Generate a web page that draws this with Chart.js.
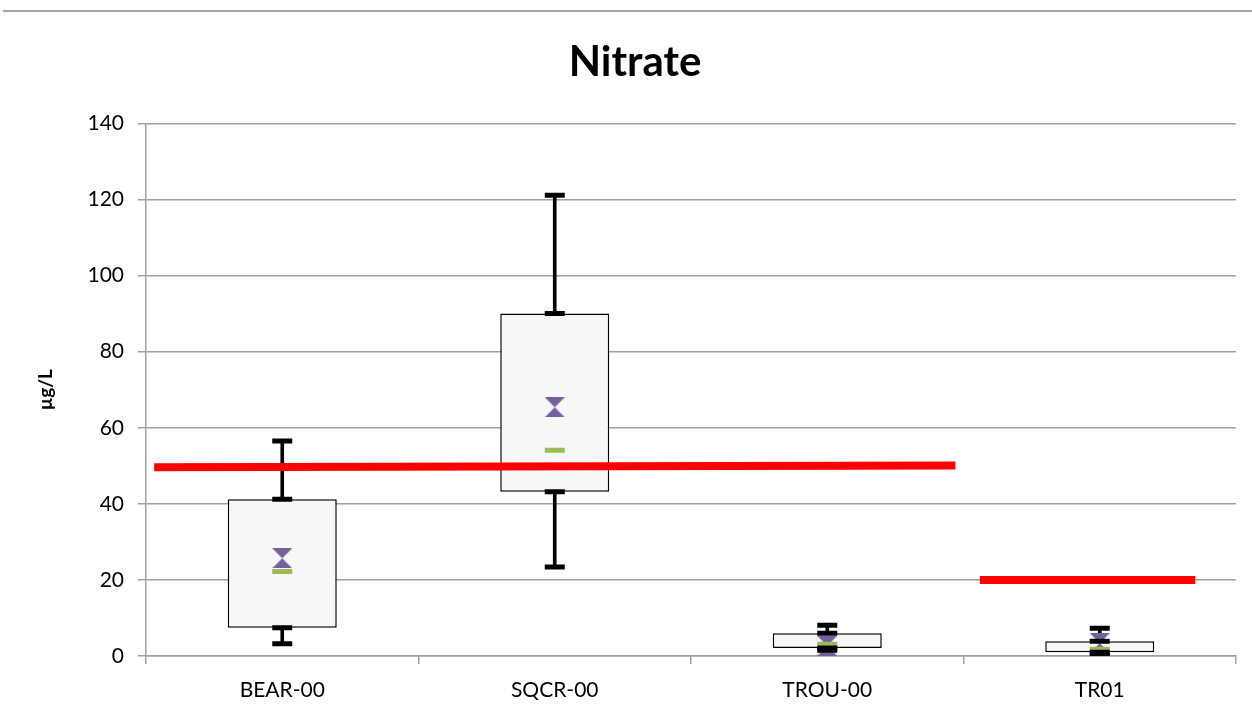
<!DOCTYPE html>
<html lang="en">
<head>
    <meta charset="UTF-8">
    <title>Nitrate</title>
    <script src="https://cdn.jsdelivr.net/npm/chart.js"></script>
    <style>
        body {
            margin: 0;
            background: #ffffff;
            font-family: Lato, Arial, sans-serif;
        }
        .frame {
            position: absolute;
            left: 3px;
            top: 10px;
            width: 1249px;
            border-top: 2px solid #a6a6a6;
        }
        #boxChart {
            position: absolute;
            left: 0;
            top: 0;
        }
    </style>
</head>
<body>
    <div class="frame"></div>
    <canvas id="boxChart" width="1252" height="717"></canvas>
    <script>
        // sites and box statistics (ug/L)
        const sites = ['BEAR-00', 'SQCR-00', 'TROU-00', 'TR01'];
        const minVals = [3.2, 23.4, 1.5, 0.6];
        const q1Vals = [7.4, 43.2, 2.1, 1.0];
        const medianVals = [22.2, 54.1, 3.1, 1.8];
        const meanVals = [25.7, 65.4, 2.7, 3.4];
        const q3Vals = [41.2, 90.0, 6.0, 3.9];
        const maxVals = [56.5, 121.1, 8.1, 7.3];

        // guideline segments, x in category units (0..4)
        const limitA = [{x: 0.03, y: 49.6}, {x: 2.97, y: 50.1}];
        const limitB = [{x: 3.06, y: 20.0}, {x: 3.85, y: 20.0}];

        const yTicks = [0, 20, 40, 60, 80, 100, 120, 140];

        // hourglass marker for the mean
        function hourglass(color) {
            const c = document.createElement('canvas');
            c.width = 20; c.height = 20;
            const g = c.getContext('2d');
            g.fillStyle = color;
            g.beginPath();
            g.moveTo(0, 0); g.lineTo(20, 0); g.lineTo(10, 10); g.closePath();
            g.moveTo(0, 20); g.lineTo(20, 20); g.lineTo(10, 10); g.closePath();
            g.fill();
            return c;
        }

        function capSet(vals) {
            return {
                type: 'line',
                data: vals,
                showLine: false,
                pointStyle: 'line',
                pointRadius: 10,
                pointBorderWidth: 5,
                pointBorderColor: '#000000',
                order: 4
            };
        }

        const ctx = document.getElementById('boxChart').getContext('2d');
        const chart = new Chart(ctx, {
            data: {
                labels: sites,
                datasets: [
                    {
                        type: 'bar',
                        data: sites.map((s, i) => [minVals[i], maxVals[i]]),
                        backgroundColor: '#000000',
                        barThickness: 3,
                        grouped: false,
                        order: 10
                    },
                    {
                        type: 'bar',
                        data: sites.map((s, i) => [q1Vals[i], q3Vals[i]]),
                        backgroundColor: '#f7f7f7',
                        borderColor: '#000000',
                        borderWidth: 1.5,
                        borderSkipped: false,
                        categoryPercentage: 1,
                        barPercentage: 0.4,
                        grouped: false,
                        order: 9
                    },
                    {
                        type: 'line',
                        xAxisID: 'xl',
                        data: limitA,
                        borderColor: '#ff0000',
                        borderWidth: 8,
                        pointRadius: 0,
                        order: 8
                    },
                    {
                        type: 'line',
                        xAxisID: 'xl',
                        data: limitB,
                        borderColor: '#ff0000',
                        borderWidth: 8,
                        pointRadius: 0,
                        order: 8
                    },
                    {
                        type: 'line',
                        data: meanVals,
                        showLine: false,
                        pointStyle: hourglass('#7460a0'),
                        order: 7
                    },
                    {
                        type: 'line',
                        data: medianVals,
                        showLine: false,
                        pointStyle: 'line',
                        pointRadius: 10,
                        pointBorderWidth: 5,
                        pointBorderColor: '#9bbb59',
                        order: 6
                    },
                    capSet(minVals),
                    capSet(q1Vals),
                    capSet(q3Vals),
                    capSet(maxVals)
                ]
            },
            options: {
                responsive: false,
                animation: false,
                layout: { padding: { left: 34, right: 16, top: 0, bottom: 0 } },
                plugins: {
                    legend: { display: false },
                    tooltip: { enabled: false },
                    title: {
                        display: true,
                        text: 'Nitrate',
                        color: '#000000',
                        font: { family: 'Lato', size: 42, weight: 'bold' },
                        padding: { top: 37, bottom: 36 }
                    }
                },
                scales: {
                    x: {
                        type: 'category',
                        offset: true,
                        grid: {
                            offset: true,
                            drawOnChartArea: false,
                            color: '#a0a0a0',
                            lineWidth: 1.5,
                            tickLength: 8
                        },
                        border: { color: '#a0a0a0', width: 1.5 },
                        ticks: {
                            color: '#000000',
                            padding: 14,
                            font: { family: 'Lato', size: 21 }
                        },
                        afterFit: s => { s.height = 61; }
                    },
                    xl: {
                        type: 'linear',
                        display: false,
                        min: 0,
                        max: 4
                    },
                    y: {
                        min: 0,
                        max: 140,
                        afterBuildTicks: s => { s.ticks = yTicks.map(v => ({value: v})); },
                        grid: {
                            color: '#a0a0a0',
                            lineWidth: 1.5,
                            tickLength: 8
                        },
                        border: { color: '#a0a0a0', width: 1.5 },
                        ticks: {
                            color: '#000000',
                            padding: 14,
                            font: { family: 'Lato', size: 21 }
                        },
                        title: {
                            display: true,
                            text: 'µg/L',
                            color: '#000000',
                            font: { family: 'Lato', size: 19, weight: 'bold' },
                            padding: { top: 0, bottom: 0 }
                        },
                        afterFit: s => { s.width = 112; }
                    }
                }
            }
        });
    </script>
</body>
</html>
